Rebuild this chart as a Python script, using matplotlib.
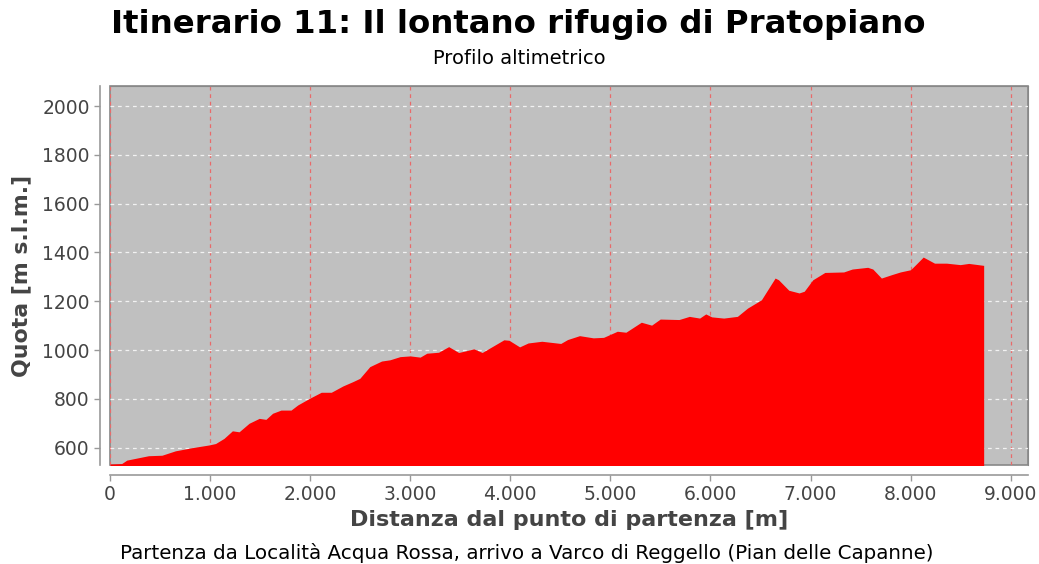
import matplotlib
matplotlib.use("Agg")
import matplotlib.pyplot as plt
from matplotlib.ticker import FuncFormatter, MultipleLocator

# profile: distance [m], quota [m s.l.m.]
dist = [0, 117, 168, 385, 519, 653, 821, 988, 1055, 1139, 1223, 1290, 1390,
        1491, 1558, 1625, 1709, 1809, 1876, 1993, 2111, 2211, 2328, 2429,
        2496, 2596, 2714, 2797, 2898, 3000, 3099, 3166, 3283, 3384, 3484,
        3568, 3635, 3719, 3819, 3936, 3987, 4093, 4178, 4315, 4504, 4572,
        4692, 4829, 4932, 5069, 5155, 5309, 5412, 5498, 5686, 5789, 5892,
        5953, 6012, 6132, 6269, 6371, 6509, 6646, 6680, 6783, 6886, 6937,
        7023, 7143, 7331, 7417, 7571, 7622, 7708, 7811, 7897, 7999, 8051,
        8126, 8239, 8359, 8496, 8581, 8730]
quota = [533, 535, 549, 567, 569, 587, 600, 611, 617, 638, 669, 665, 700,
         720, 716, 741, 754, 754, 775, 802, 827, 827, 853, 871,
         884, 932, 955, 960, 973, 976, 971, 987, 991, 1014, 990,
         998, 1005, 990, 1014, 1042, 1040, 1013, 1029, 1036, 1027, 1043,
         1059, 1050, 1052, 1077, 1073, 1114, 1102, 1127, 1125, 1138, 1131,
         1148, 1136, 1131, 1138, 1172, 1206, 1295, 1288, 1245, 1234, 1241,
         1288, 1318, 1320, 1332, 1339, 1332, 1295, 1309, 1320, 1329, 1350,
         1381, 1356, 1356, 1350, 1355, 1347]

title = "Itinerario 11: Il lontano rifugio di Pratopiano"
subtitle = "Profilo altimetrico"
caption = "Partenza da Località Acqua Rossa, arrivo a Varco di Reggello (Pian delle Capanne)"

W, H = 1039, 564
fig = plt.figure(figsize=(W / 100, H / 100), dpi=100)
fig.patch.set_facecolor("white")
ax = fig.add_axes([110 / W, 1 - 465 / H, (1028 - 110) / W, (465 - 86) / H])

ax.set_facecolor("#c0c0c0")
ax.fill_between(dist, quota, 0, color="#ff0000", linewidth=0, zorder=2)
ax.set_xlim(0, 9173)
ax.set_ylim(529, 2082)

ax.xaxis.set_major_locator(MultipleLocator(1000))
ax.yaxis.set_major_locator(MultipleLocator(200))
ax.xaxis.set_major_formatter(FuncFormatter(lambda v, p: "{:,.0f}".format(v).replace(",", ".")))

ax.grid(False)
for xv in range(0, 10000, 1000):
    ax.axvline(xv, color="#e86a6a", lw=0.9, ls=(0, (3, 3)), zorder=1)
for yv in range(600, 2100, 200):
    ax.axhline(yv, color="#f2f2f2", lw=0.9, ls=(0, (3, 3)), zorder=1)

# plot border
for s in ["top", "right"]:
    ax.spines[s].set_color("#888888")
ax.patch.set_edgecolor("#888888")
ax.patch.set_linewidth(1.2)
for s in ["left", "bottom"]:
    ax.spines[s].set_position(("outward", 7))
    ax.spines[s].set_color("#999999")
    ax.spines[s].set_linewidth(1.2)

ax.tick_params(colors="#999999", labelcolor="#444444", labelsize=13.5, length=4, width=1)

ax.set_xlabel("Distanza dal punto di partenza [m]", fontsize=16, fontweight="bold", color="#444444", labelpad=4)
ax.set_ylabel("Quota [m s.l.m.]", fontsize=15.8, fontweight="bold", color="#444444", labelpad=8)

fig.text(518 / W, 1 - 25 / H, title, ha="center", va="center", fontsize=23.3, fontweight="bold", color="black")
fig.text(519 / W, 1 - 58 / H, subtitle, ha="center", va="center", fontsize=14, color="black")
fig.text(527 / W, 1 - 553 / H, caption, ha="center", va="center", fontsize=14.3, color="black")

fig.savefig("out.png", dpi=100)
